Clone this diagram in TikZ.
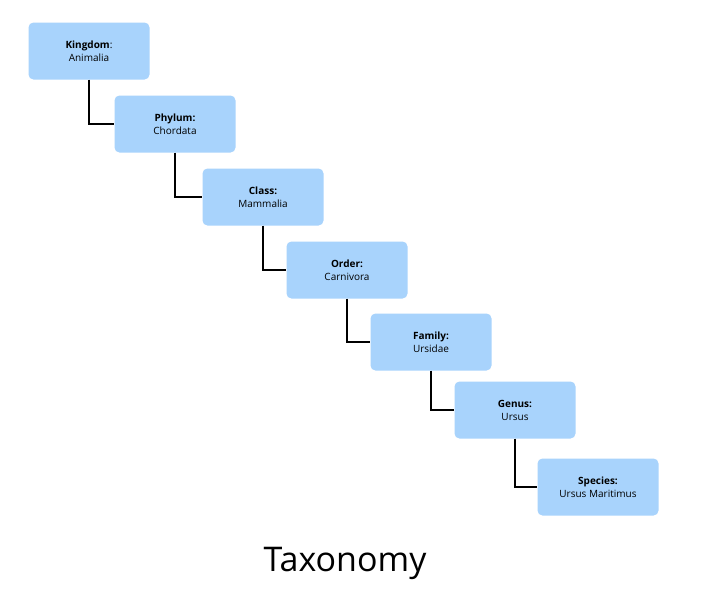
\documentclass[tikz,border=0pt]{standalone}
\usepackage{fontspec}
\setmainfont{Open Sans}
\begin{document}
\begin{tikzpicture}[x=1pt,y=-1pt,
  tbox/.style={fill=boxblue,rounded corners=5pt,minimum width=121pt,minimum height=57pt,align=center,font=\fontsize{10}{13}\selectfont,inner sep=2pt},
  conn/.style={draw=black,line width=2.2pt}]
\definecolor{boxblue}{HTML}{A8D3FC}
\useasboundingbox (0,0) rectangle (720,606);
\fill[white] (0,0) rectangle (720,606);
\node[tbox] (k) at (89,51) {\textbf{Kingdom}:\\Animalia};
\node[tbox] (p) at (175,124) {\textbf{Phylum:}\\Chordata};
\node[tbox] (c) at (263,197) {\textbf{Class:}\\Mammalia};
\node[tbox] (o) at (347,270) {\textbf{Order:}\\Carnivora};
\node[tbox] (f) at (431,342) {\textbf{Family:}\\Ursidae};
\node[tbox] (g) at (515,410) {\textbf{Genus:}\\Ursus};
\node[tbox] (s) at (598,487) {\textbf{Species:}\\Ursus Maritimus};
\foreach \a/\b in {k/p,p/c,c/o,o/f,f/g,g/s}
  \draw[conn] (\a.south) |- (\b.west);
\node (t) at (345,563) {\fontsize{34}{40}\selectfont Taxonomy};
\end{tikzpicture}
\end{document}
